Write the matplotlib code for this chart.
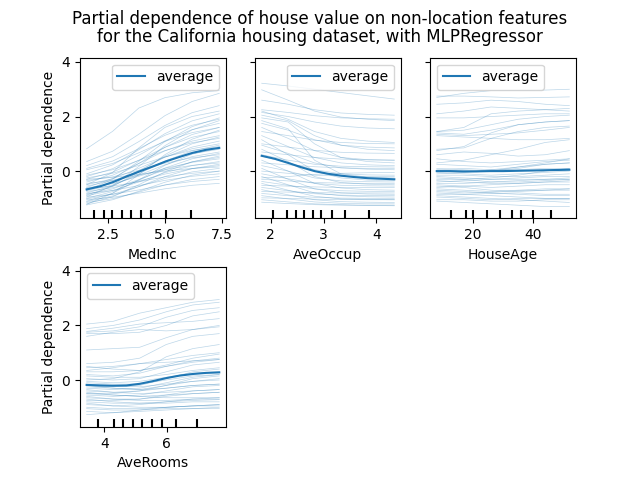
import matplotlib
matplotlib.use("Agg")
import matplotlib.pyplot as plt
import matplotlib.transforms as mtransforms
import numpy as np

# ---------------- data ----------------
features = ["MedInc", "AveOccup", "HouseAge", "AveRooms"]

# grid values for ICE lines
medinc_grid = [1.55, 2.7, 3.85, 5.0, 6.2, 7.4]
aveoccup_grid = [1.83, 2.33, 2.83, 3.33, 3.83, 4.34]
houseage_grid = [8, 17, 26, 35, 44, 52]
averooms_grid = [3.43, 4.28, 5.13, 5.98, 6.83, 7.68]

medinc_ice = [
    [0.82, 1.46, 2.31, 2.69, 2.87, 2.95],
    [0.35, 0.73, 1.35, 2.03, 2.55, 2.85],
    [0.2, 0.53, 1.08, 1.67, 2.14, 2.4],
    [0.1, 0.37, 0.82, 1.31, 1.68, 1.9],
    [0.05, 0.28, 0.67, 1.09, 1.41, 1.6],
    [-0.1, 0.23, 0.78, 1.37, 1.84, 2.1],
    [-0.15, 0.05, 0.39, 0.75, 1.04, 1.2],
    [-0.2, 0.09, 0.58, 1.11, 1.52, 1.75],
    [-0.25, -0.08, 0.21, 0.52, 0.76, 0.9],
    [-0.3, -0.04, 0.4, 0.87, 1.24, 1.45],
    [-0.35, -0.21, 0.03, 0.29, 0.49, 0.6],
    [-0.4, -0.15, 0.28, 0.74, 1.1, 1.3],
    [-0.45, -0.34, -0.15, 0.05, 0.21, 0.3],
    [-0.5, -0.28, 0.1, 0.51, 0.82, 1.0],
    [-0.55, -0.35, -0.01, 0.35, 0.64, 0.8],
    [-0.6, -0.27, 0.28, 0.87, 1.34, 1.6],
    [-0.62, -0.46, -0.19, 0.1, 0.32, 0.45],
    [-0.65, -0.55, -0.39, -0.21, -0.08, 0.0],
    [-0.7, -0.43, 0.02, 0.51, 0.88, 1.1],
    [-0.72, -0.51, -0.15, 0.23, 0.53, 0.7],
    [-0.75, -0.61, -0.37, -0.11, 0.09, 0.2],
    [-0.8, -0.54, -0.1, 0.37, 0.74, 0.95],
    [-0.82, -0.71, -0.53, -0.34, -0.19, -0.1],
    [-0.85, -0.65, -0.31, 0.05, 0.34, 0.5],
    [-0.88, -0.56, -0.03, 0.55, 1.0, 1.25],
    [-0.9, -0.71, -0.4, -0.06, 0.2, 0.35],
    [-0.95, -0.85, -0.69, -0.51, -0.38, -0.3],
    [-1.0, -0.75, -0.34, 0.11, 0.45, 0.65],
    [-1.02, -0.85, -0.57, -0.27, -0.03, 0.1],
    [-1.05, -0.96, -0.81, -0.65, -0.52, -0.45],
    [-1.1, -0.81, -0.32, 0.21, 0.62, 0.85],
    [-1.12, -0.91, -0.57, -0.2, 0.09, 0.25],
    [-1.15, -1.01, -0.77, -0.51, -0.31, -0.2],
    [-1.2, -0.94, -0.5, -0.03, 0.34, 0.55],
    [-1.22, -0.81, -0.13, 0.6, 1.17, 1.5],
    [-1.24, -1.05, -0.74, -0.41, -0.15, 0.0],
    [-0.5, -0.05, 0.85, 1.6, 2.0, 2.2],
    [-0.3, -0.23, -0.12, 0.0, 0.1, 0.15],
    [-0.95, -0.53, 0.17, 0.93, 1.51, 1.85],
    [-0.7, -0.3, 0.36, 1.08, 1.63, 1.95],
]

aveoccup_ice = [
    [3.22, 3.12, 3.0, 2.88, 2.76, 2.64],
    [2.98, 2.6, 2.2, 1.98, 1.9, 1.85],
    [2.25, 2.15, 2.03, 1.95, 1.92, 1.9],
    [2.15, 2.0, 1.8, 1.65, 1.58, 1.55],
    [2.05, 1.85, 1.3, 0.95, 0.8, 0.75],
    [1.95, 1.8, 1.0, 0.5, 0.35, 0.3],
    [2.2, 1.9, 1.45, 1.2, 1.1, 1.05],
    [1.85, 1.55, 0.4, -0.1, -0.22, -0.25],
    [1.75, 1.5, 1.15, 0.95, 0.88, 0.85],
    [1.6, 1.2, 0.75, 0.5, 0.42, 0.4],
    [1.45, 1.3, 1.13, 1.05, 1.01, 1.0],
    [1.3, 0.9, 0.5, 0.3, 0.23, 0.2],
    [1.15, 0.6, 0.0, -0.25, -0.33, -0.35],
    [0.95, 0.65, 0.3, 0.12, 0.07, 0.05],
    [0.8, 0.35, -0.2, -0.42, -0.48, -0.5],
    [0.7, 0.6, 0.5, 0.44, 0.41, 0.4],
    [0.55, 0.3, 0.05, -0.1, -0.14, -0.15],
    [0.4, 0.0, -0.45, -0.62, -0.68, -0.7],
    [0.3, 0.23, 0.16, 0.12, 0.1, 0.1],
    [0.2, 0.0, -0.25, -0.36, -0.39, -0.4],
    [0.1, -0.3, -0.65, -0.8, -0.84, -0.85],
    [0.0, -0.08, -0.15, -0.18, -0.2, -0.2],
    [-0.1, -0.28, -0.45, -0.52, -0.54, -0.55],
    [-0.2, -0.5, -0.8, -0.9, -0.94, -0.95],
    [-0.3, -0.36, -0.42, -0.44, -0.45, -0.45],
    [-0.38, -0.52, -0.65, -0.72, -0.74, -0.75],
    [-0.45, -0.7, -0.92, -1.02, -1.04, -1.05],
    [-0.52, -0.55, -0.58, -0.6, -0.6, -0.6],
    [-0.6, -0.72, -0.83, -0.88, -0.9, -0.9],
    [-0.68, -0.87, -1.05, -1.12, -1.14, -1.15],
    [-0.75, -0.77, -0.79, -0.8, -0.8, -0.8],
    [-0.82, -0.9, -0.96, -0.99, -1.0, -1.0],
    [-0.9, -1.02, -1.13, -1.18, -1.2, -1.2],
    [-0.98, -1.0, -1.03, -1.04, -1.05, -1.05],
    [-1.05, -1.13, -1.2, -1.23, -1.25, -1.25],
    [-1.14, -1.19, -1.23, -1.25, -1.26, -1.27],
    [2.6, 2.45, 2.25, 2.13, 2.08, 2.05],
    [1.0, 0.88, 0.76, 0.69, 0.66, 0.65],
    [0.6, 0.4, 0.25, 0.18, 0.16, 0.15],
    [-0.25, -0.2, -0.12, -0.08, -0.06, -0.05],
]

houseage_ice = [
    [2.7, 2.85, 2.95, 2.95, 2.97, 3.0],
    [2.75, 2.75, 2.72, 2.68, 2.7, 2.72],
    [2.45, 2.5, 2.6, 2.55, 2.45, 2.4],
    [2.1, 2.2, 2.35, 2.3, 2.25, 2.3],
    [1.45, 1.6, 2.1, 2.2, 2.25, 2.2],
    [1.45, 1.5, 1.7, 1.9, 2.0, 2.05],
    [1.4, 1.35, 1.5, 1.7, 1.8, 1.85],
    [1.35, 1.3, 1.35, 1.4, 1.5, 1.6],
    [0.75, 0.9, 1.4, 1.7, 1.8, 1.85],
    [0.8, 0.85, 1.2, 1.45, 1.6, 1.65],
    [0.6, 0.7, 0.65, 0.55, 0.6, 0.75],
    [0.45, 0.35, 0.3, 0.35, 0.4, 0.45],
    [0.3, 0.4, 0.6, 0.8, 1.05, 1.15],
    [0.25, 0.2, 0.15, 0.25, 0.35, 0.4],
    [0.1, 0.05, 0.0, 0.1, 0.25, 0.3],
    [0.0, -0.05, 0.0, 0.15, 0.3, 0.45],
    [-0.05, -0.1, -0.15, -0.1, -0.05, 0.0],
    [-0.15, -0.15, -0.2, -0.2, -0.15, -0.1],
    [-0.2, -0.25, -0.3, -0.25, -0.2, -0.2],
    [-0.3, -0.3, -0.25, -0.15, 0.0, 0.1],
    [-0.35, -0.4, -0.45, -0.45, -0.4, -0.35],
    [-0.45, -0.45, -0.4, -0.35, -0.3, -0.3],
    [-0.5, -0.55, -0.6, -0.55, -0.5, -0.5],
    [-0.55, -0.6, -0.7, -0.75, -0.7, -0.65],
    [-0.6, -0.55, -0.5, -0.45, -0.4, -0.4],
    [-0.65, -0.7, -0.75, -0.7, -0.65, -0.65],
    [-0.7, -0.75, -0.8, -0.85, -0.9, -0.9],
    [-0.75, -0.8, -0.78, -0.72, -0.7, -0.7],
    [-0.8, -0.85, -0.9, -0.95, -1.0, -1.0],
    [-0.85, -0.85, -0.82, -0.8, -0.85, -0.85],
    [-0.9, -0.95, -1.0, -1.05, -1.1, -1.15],
    [-0.95, -1.0, -1.05, -1.0, -1.0, -1.0],
    [-1.05, -1.05, -1.1, -1.1, -1.05, -1.05],
    [-1.1, -1.15, -1.2, -1.25, -1.3, -1.3],
    [0.05, 0.1, 0.05, 0.05, 0.1, 0.1],
    [-0.1, -0.05, 0.05, 0.15, 0.25, 0.3],
    [1.3, 1.25, 1.2, 1.15, 1.15, 1.2],
    [-0.4, -0.35, -0.3, -0.3, -0.3, -0.25],
    [1.95, 1.95, 2.0, 2.05, 2.1, 2.1],
    [-0.25, -0.3, -0.4, -0.4, -0.35, -0.3],
]

averooms_ice = [
    [2.05, 2.15, 2.45, 2.65, 2.85, 2.95],
    [1.88, 2.0, 2.2, 2.5, 2.75, 2.85],
    [1.78, 1.9, 2.05, 2.1, 2.15, 2.25],
    [1.7, 1.7, 1.75, 2.0, 2.35, 2.5],
    [1.6, 1.75, 1.85, 1.8, 1.85, 1.95],
    [1.1, 1.15, 1.2, 1.55, 1.85, 2.0],
    [0.6, 0.65, 0.8, 1.3, 1.6, 1.7],
    [0.45, 0.5, 0.6, 0.75, 0.9, 1.0],
    [0.3, 0.3, 0.35, 0.55, 0.8, 0.95],
    [0.2, 0.15, 0.25, 0.5, 0.7, 0.8],
    [0.15, 0.1, 0.1, 0.2, 0.35, 0.45],
    [0.05, 0.0, 0.05, 0.3, 0.55, 0.65],
    [-0.05, -0.1, -0.05, 0.1, 0.25, 0.3],
    [-0.1, -0.15, -0.15, 0.0, 0.15, 0.2],
    [-0.15, -0.2, -0.25, -0.15, -0.05, 0.0],
    [-0.2, -0.25, -0.2, 0.05, 0.3, 0.4],
    [-0.25, -0.3, -0.35, -0.3, -0.2, -0.15],
    [-0.3, -0.35, -0.3, -0.1, 0.1, 0.2],
    [-0.35, -0.45, -0.5, -0.45, -0.4, -0.35],
    [-0.4, -0.45, -0.4, -0.3, -0.2, -0.15],
    [-0.45, -0.55, -0.6, -0.55, -0.5, -0.45],
    [-0.5, -0.55, -0.6, -0.65, -0.65, -0.65],
    [-0.55, -0.6, -0.55, -0.4, -0.25, -0.2],
    [-0.6, -0.7, -0.75, -0.75, -0.7, -0.7],
    [-0.65, -0.7, -0.7, -0.6, -0.5, -0.45],
    [-0.7, -0.8, -0.85, -0.85, -0.8, -0.8],
    [-0.8, -0.85, -0.85, -0.8, -0.75, -0.72],
    [-0.85, -0.95, -1.0, -1.0, -0.95, -0.95],
    [-0.9, -0.95, -0.9, -0.8, -0.7, -0.65],
    [-1.0, -1.05, -1.05, -1.0, -0.95, -0.9],
    [-1.05, -1.1, -1.1, -1.05, -1.05, -1.0],
    [-1.15, -1.2, -1.15, -1.1, -1.05, -1.05],
    [-1.27, -1.2, -1.1, -1.0, -0.95, -0.9],
    [0.0, 0.05, 0.3, 0.85, 1.15, 1.3],
    [0.35, 0.45, 0.6, 0.65, 0.7, 0.75],
    [-0.2, -0.3, -0.35, -0.2, -0.05, 0.05],
    [1.75, 1.8, 1.95, 2.3, 2.55, 2.65],
    [-0.5, -0.5, -0.4, -0.2, 0.05, 0.15],
    [-0.75, -0.75, -0.7, -0.55, -0.4, -0.35],
    [0.5, 0.4, 0.35, 0.5, 0.65, 0.75],
]

# average (partial dependence) curves
medinc_avg_x = [1.55, 2.135, 2.72, 3.305, 3.89, 4.475, 5.06, 5.645, 6.23, 6.815, 7.4]
medinc_avg = [-0.67, -0.56, -0.40, -0.20, -0.01, 0.17, 0.36, 0.52, 0.67, 0.78, 0.85]
aveoccup_avg_x = [1.83, 2.08, 2.33, 2.58, 2.83, 3.09, 3.34, 3.59, 3.84, 4.09, 4.34]
aveoccup_avg = [0.56, 0.45, 0.30, 0.14, 0.0, -0.10, -0.17, -0.22, -0.26, -0.28, -0.30]
houseage_avg_x = [8, 12.4, 16.8, 21.2, 25.6, 30, 34.4, 38.8, 43.2, 47.6, 52]
houseage_avg = [0.0, 0.0, -0.01, -0.01, 0.0, 0.0, 0.01, 0.02, 0.03, 0.04, 0.05]
averooms_avg_x = [3.43, 3.855, 4.28, 4.705, 5.13, 5.555, 5.98, 6.405, 6.83, 7.255, 7.68]
averooms_avg = [-0.18, -0.20, -0.21, -0.20, -0.14, -0.04, 0.07, 0.16, 0.22, 0.26, 0.28]

# deciles (rug)
medinc_deciles = [1.88, 2.31, 2.69, 3.12, 3.51, 3.94, 4.41, 5.06, 6.14]
aveoccup_deciles = [2.05, 2.31, 2.48, 2.64, 2.80, 2.95, 3.17, 3.40, 3.86]
houseage_deciles = [12.6, 17.6, 20.0, 24.8, 28.9, 33.0, 36.0, 39.8, 45.9]
averooms_deciles = [3.80, 4.30, 4.61, 4.93, 5.22, 5.51, 5.86, 6.29, 6.97]

title = ("Partial dependence of house value on non-location features\n"
         "for the California housing dataset, with MLPRegressor")

# ---------------- plot ----------------
fig, axes = plt.subplots(2, 3, figsize=(6.4, 4.8), dpi=100, sharey=True)
fig.subplots_adjust(hspace=0.3)

panels = [
    (axes[0, 0], medinc_grid, medinc_ice, medinc_avg_x, medinc_avg, medinc_deciles, "MedInc", "upper right", [2.5, 5.0, 7.5]),
    (axes[0, 1], aveoccup_grid, aveoccup_ice, aveoccup_avg_x, aveoccup_avg, aveoccup_deciles, "AveOccup", "upper right", [2, 3, 4]),
    (axes[0, 2], houseage_grid, houseage_ice, houseage_avg_x, houseage_avg, houseage_deciles, "HouseAge", "upper left", [20, 40]),
    (axes[1, 0], averooms_grid, averooms_ice, averooms_avg_x, averooms_avg, averooms_deciles, "AveRooms", "upper left", [4, 6]),
]

for ax, gx, ice, ax_x, avg, dec, name, loc, xt in panels:
    for line in ice:
        ax.plot(gx, line, color="tab:blue", alpha=0.3, linewidth=0.5)
    ax.plot(ax_x, avg, color="tab:blue", linewidth=1.5, label="average")
    trans = mtransforms.blended_transform_factory(ax.transData, ax.transAxes)
    ax.vlines(dec, 0, 0.05, transform=trans, color="k")
    ax.set_xlabel(name)
    ax.set_xticks(xt)
    ax.legend(loc=loc)

axes[0, 0].set_ylim(-1.73, 4.16)
axes[0, 0].set_yticks([0, 2, 4])
axes[0, 0].set_ylabel("Partial dependence")
axes[1, 0].set_ylabel("Partial dependence")
axes[1, 0].tick_params(labelleft=True)
axes[1, 1].remove()
axes[1, 2].remove()

fig.suptitle(title, linespacing=1.0)
fig.savefig("out.png", dpi=100)
